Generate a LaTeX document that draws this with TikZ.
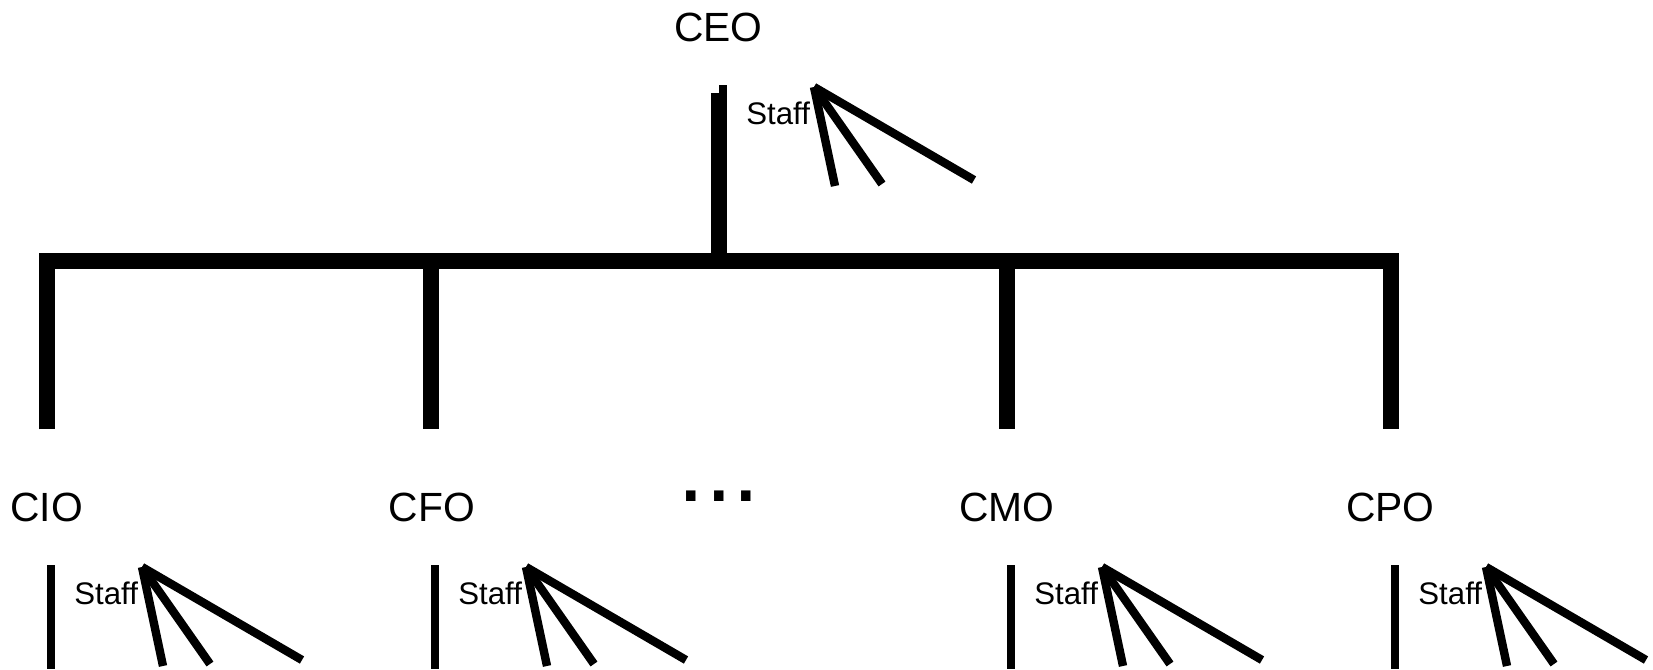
\documentclass[tikz,border=0pt]{standalone}
\usepackage{fontspec}
\setmainfont{Liberation Sans}
\begin{document}
\begin{tikzpicture}[x=0.5pt,y=-0.5pt,
  bar/.style={line width=8pt, line join=miter, line cap=butt},
  thinline/.style={line width=4pt, line cap=butt},
  fan/.style={line width=4.2pt, line cap=butt},
  lbl/.style={inner sep=0pt, anchor=base, font=\fontsize{20.4pt}{24pt}\selectfont},
  staff/.style={inner sep=0pt, anchor=base west, font=\fontsize{15.6pt}{18pt}\selectfont},
  dotstyle/.style={inner sep=0pt, anchor=base, font=\fontsize{49.5pt}{50pt}\selectfont}]
\useasboundingbox (0,0) rectangle (1653,669);
% labels
\node[lbl] (ceo) at (718.3,41) {CEO};
\node[lbl] (cio) at (46.7,521) {CIO};
\node[lbl] (cfo) at (431.7,521) {CFO};
\node[lbl] (cmo) at (1006.7,521) {CMO};
\node[lbl] (cpo) at (1390.3,521) {CPO};
\node[dotstyle] (dots) at (719,501.5) {...};
% main structure
\coordinate (b1) at (47,429.3);
\coordinate (b2) at (431,429.3);
\coordinate (b3) at (1007,429.3);
\coordinate (b4) at (1391,429.3);
\coordinate (j1) at (47,261.3);
\coordinate (j2) at (431,261.3);
\coordinate (j3) at (1007,261.3);
\coordinate (j4) at (1391,261.3);
\coordinate (jc) at (719,261.3);
\coordinate (ct) at (719,93.3);
\coordinate (ctt) at (723,85);
\coordinate (ctb) at (723,261.3);
\draw[bar] (b1) -- (j1) -- (j4) -- (b4);
\draw[bar] (j2) -- (b2);
\draw[bar] (j3) -- (b3);
\draw[bar] (ct) -- (jc);
\draw[thinline] (ctt) -- (ctb);
% staff groups
\foreach \v/\t/\n in {723/85/ceo, 51/565/cio, 435/565/cfo, 1011/565/cmo, 1395/565/cpo} {
  \coordinate (vt-\n) at (\v,\t);
  \coordinate (vb-\n) at (\v,669);
  \node[staff] (staff-\n) at (\v+23,\t+39.5) {Staff};
  \coordinate (apex-\n) at (\v+91,\t+2);
  \coordinate (fa-\n) at (\v+112,\t+101);
  \coordinate (fb-\n) at (\v+159,\t+99);
  \coordinate (fc-\n) at (\v+251,\t+95);
  \draw[fan] (apex-\n) -- (fa-\n);
  \draw[fan] (apex-\n) -- (fb-\n);
  \draw[fan] (apex-\n) -- (fc-\n);
}
\foreach \n in {cio, cfo, cmo, cpo} {
  \draw[thinline] (vt-\n) -- (vb-\n);
}
\end{tikzpicture}
\end{document}
